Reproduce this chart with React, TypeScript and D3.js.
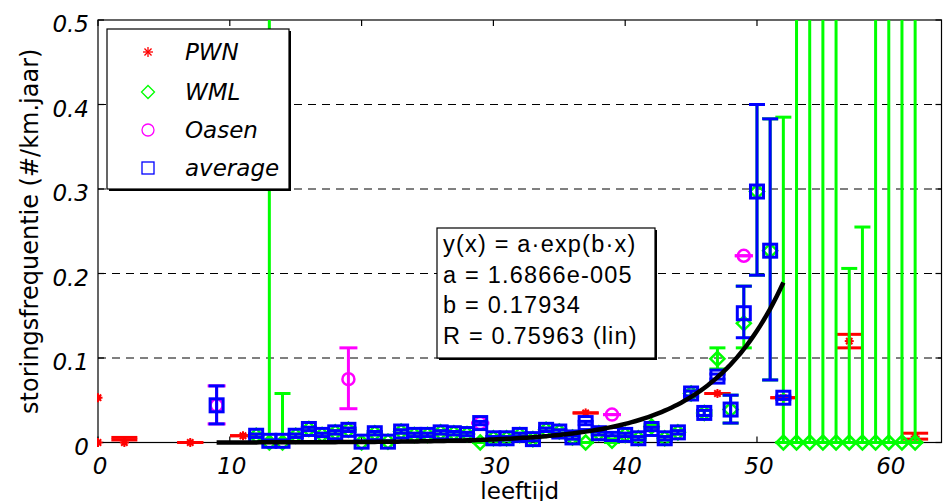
import React from "react";
import * as d3 from "d3";

// ---------- data ----------
const avgAges = [9, 12, 13, 14, 15, 16, 17, 18, 19, 20, 21, 22, 23, 24, 25, 26, 27, 28, 29, 30, 31, 32, 33, 34, 35, 36, 37, 38, 39, 40, 41, 42, 43, 44, 45, 46, 47, 48, 49, 50, 51, 52];
const avgVals = [0.044, 0.008, 0.002, 0.002, 0.008, 0.016, 0.009, 0.012, 0.015, 0.001, 0.011, 0.001, 0.013, 0.009, 0.009, 0.012, 0.011, 0.010, 0.023, 0.005, 0.005, 0.009, 0.004, 0.015, 0.013, 0.006, 0.023, 0.011, 0.010, 0.009, 0.005, 0.016, 0.005, 0.012, 0.058, 0.035, 0.078, 0.039, 0.153, 0.297, 0.227, 0.053];
const avgLo = [0.022, 0.006, 0.001, 0.001, 0.006, 0.014, 0.007, 0.010, 0.013, 0.0, 0.009, 0.0, 0.011, 0.007, 0.007, 0.010, 0.009, 0.008, 0.021, 0.003, 0.003, 0.007, 0.002, 0.013, 0.011, 0.004, 0.021, 0.009, 0.008, 0.007, 0.003, 0.014, 0.003, 0.010, 0.055, 0.032, 0.075, 0.023, 0.124, 0.198, 0.074, 0.051];
const avgHi = [0.067, 0.010, 0.003, 0.003, 0.010, 0.018, 0.011, 0.014, 0.017, 0.002, 0.013, 0.002, 0.015, 0.011, 0.011, 0.014, 0.013, 0.012, 0.025, 0.007, 0.007, 0.011, 0.006, 0.017, 0.015, 0.008, 0.025, 0.013, 0.012, 0.011, 0.007, 0.018, 0.007, 0.014, 0.061, 0.038, 0.081, 0.056, 0.185, 0.400, 0.383, 0.055];

const wmlAges = [12, 13, 14, 15, 16, 17, 18, 19, 20, 21, 22, 23, 24, 25, 26, 27, 28, 29, 30, 31, 32, 33, 34, 35, 36, 37, 38, 39, 40, 41, 42, 43, 44, 45, 46, 47, 48, 49, 50, 51, 52, 53, 54, 55, 56, 57, 58, 59, 60, 61, 62];
const wmlVals = [0.008, 0, 0, 0.008, 0.016, 0.009, 0.012, 0.015, 0, 0.011, 0.001, 0.013, 0.009, 0.009, 0.012, 0.011, 0.010, 0, 0.005, 0.005, 0.009, 0.004, 0.015, 0.013, 0.006, 0, 0.011, 0.002, 0.009, 0.005, 0.019, 0.005, 0.012, 0.058, 0.035, 0.099, 0.039, 0.141, 0.297, 0.227, 0, 0, 0, 0, 0, 0, 0, 0, 0, 0, 0];
const wmlLo = [0.006, 0, 0, 0.006, 0.014, 0.007, 0.010, 0.013, 0, 0.009, 0.0, 0.011, 0.007, 0.007, 0.010, 0.009, 0.008, 0, 0.003, 0.003, 0.007, 0.002, 0.013, 0.011, 0.004, 0, 0.009, 0.0, 0.007, 0.003, 0.017, 0.003, 0.010, 0.055, 0.032, 0.087, 0.023, 0.112, 0.198, 0.074, 0, 0, 0, 0, 0, 0, 0, 0, 0, 0, 0];
const wmlHi = [0.010, 0.9, 0.058, 0.010, 0.018, 0.011, 0.014, 0.017, 0.0, 0.013, 0.002, 0.015, 0.011, 0.011, 0.014, 0.013, 0.012, 0.0, 0.007, 0.007, 0.011, 0.006, 0.017, 0.015, 0.008, 0.0, 0.013, 0.004, 0.011, 0.007, 0.021, 0.007, 0.014, 0.061, 0.038, 0.112, 0.056, 0.185, 0.400, 0.383, 0.385, 0.9, 0.9, 0.9, 0.9, 0.206, 0.255, 0.9, 0.9, 0.9, 0.9];

// NaN = no error bar drawn
const pwnAges = [0, 0, 2, 7, 11, 37, 47, 52, 57, 62];
const pwnVals = [0.053, 0, 0.0, 0, 0.008, 0.035, 0.058, 0.053, 0.120, 0.007];
const pwnLo = [NaN, NaN, 0.003, 0, 0.008, 0.035, 0.058, 0.053, 0.112, 0.004];
const pwnHi = [NaN, NaN, 0.006, 0, 0.008, 0.035, 0.058, 0.053, 0.128, 0.011];

const oasenAges = [9, 19, 29, 39, 49];
const oasenVals = [0.044, 0.075, 0.023, 0.033, 0.221];
const oasenLo = [0.022, 0.040, 0.023, 0.033, 0.221];
const oasenHi = [0.067, 0.112, 0.023, 0.033, 0.221];

const fitA = 1.6866e-5;
const fitB = 0.17934;
const fitRange = [9, 52];

const xTicks = [0, 10, 20, 30, 40, 50, 60];
const yTicks = [0, 0.1, 0.2, 0.3, 0.4, 0.5];
const gridTicks = [0.1, 0.2, 0.3, 0.4];

const legendLabels = ["PWN", "WML", "Oasen", "average"];
const fitLines = ["y(x) = a·exp(b·x)", "a = 1.6866e-005", "b = 0.17934", "R = 0.75963 (lin)"];
const xLabel = "leeftijd";
const yLabel = "storingsfrequentie (#/km.jaar)";

// ---------- layout ----------
const W = 943;
const H = 501;
const X0 = 98, X1 = 941.5, Y0 = 442.5, Y1 = 20;
const x = d3.scaleLinear().domain([0, 64]).range([X0, X1]);
const y = d3.scaleLinear().domain([0, 0.5]).range([Y0, Y1]);

const RED = "#ff0000";
const GREEN = "#00ff00";
const MAG = "#ff00ff";
const BLUE = "#0000ff";
const TICKFONT = "'DejaVu Sans', sans-serif";

function ErrBars({ ages, lo, hi, color, cap, sw }: any) {
  return (
    <g stroke={color} strokeWidth={sw} fill="none" clipPath="url(#plotclip)">
      {ages.map((a: number, i: number) => {
        if (isNaN(lo[i]) || isNaN(hi[i])) return null;
        const cx = x(a);
        const yl = y(lo[i]);
        const yh = y(hi[i]);
        return (
          <g key={i}>
            {Math.abs(yl - yh) > 0.5 && <line x1={cx} x2={cx} y1={yl} y2={yh} />}
            <line x1={cx - cap / 2} x2={cx + cap / 2} y1={yl} y2={yl} />
            <line x1={cx - cap / 2} x2={cx + cap / 2} y1={yh} y2={yh} />
          </g>
        );
      })}
    </g>
  );
}

function Star({ cx, cy, r, color, sw }: any) {
  const d = r * 0.7071;
  return (
    <g stroke={color} strokeWidth={sw}>
      <line x1={cx - r} x2={cx + r} y1={cy} y2={cy} />
      <line x1={cx} x2={cx} y1={cy - r} y2={cy + r} />
      <line x1={cx - d} x2={cx + d} y1={cy - d} y2={cy + d} />
      <line x1={cx - d} x2={cx + d} y1={cy + d} y2={cy - d} />
    </g>
  );
}

function Diamond({ cx, cy, r, color, sw }: any) {
  return (
    <path d={`M${cx},${cy - r}L${cx + r},${cy}L${cx},${cy + r}L${cx - r},${cy}Z`} fill="none" stroke={color} strokeWidth={sw} />
  );
}

export default function App() {
  const fitAges = d3.range(fitRange[0], fitRange[1] + 0.001, 0.25);
  const fitPath = d3
    .line<number>()
    .x((a) => x(a))
    .y((a) => y(fitA * Math.exp(fitB * a)))(fitAges);

  const legendRows = [52, 92, 130, 168];

  return (
    <div style={{ position: "absolute", left: 0, top: 0, width: W, height: H }}>
      <svg width={W} height={H} viewBox={`0 0 ${W} ${H}`} style={{ display: "block" }}>
        <defs>
          <clipPath id="plotclip">
            <rect x={0} y={Y1} width={W} height={H - Y1} />
          </clipPath>
          <clipPath id="leftclip">
            <rect x={X0 - 1} y={0} width={W} height={H} />
          </clipPath>
        </defs>
        <rect x={0} y={0} width={W} height={H} fill="#fff" />

        {/* grid */}
        <g stroke="#000" strokeWidth={1} strokeDasharray="8,6">
          {gridTicks.map((t) => (
            <line key={t} x1={X0} x2={X1} y1={y(t)} y2={y(t)} />
          ))}
        </g>

        {/* axes box */}
        <g stroke="#000" strokeWidth={1.2} fill="none">
          <rect x={X0} y={Y1} width={X1 - X0} height={Y0 - Y1} />
          {xTicks.map((t) => (
            <g key={t}>
              <line x1={x(t)} x2={x(t)} y1={Y0} y2={Y0 - 6} />
              <line x1={x(t)} x2={x(t)} y1={Y1} y2={Y1 + 6} />
            </g>
          ))}
          {yTicks.map((t) => (
            <g key={t}>
              <line x1={X0} x2={X0 + 6} y1={y(t)} y2={y(t)} />
              <line x1={X1} x2={X1 - 6} y1={y(t)} y2={y(t)} />
            </g>
          ))}
        </g>

        {/* PWN */}
        <ErrBars ages={pwnAges} lo={pwnLo} hi={pwnHi} color={RED} cap={26} sw={3} />
        <g clipPath="url(#leftclip)">
          {pwnAges.map((a, i) => (
            <g key={i}>
              <circle cx={x(a)} cy={y(pwnVals[i])} r={3} fill={RED} />
              <Star cx={x(a)} cy={y(pwnVals[i])} r={4.5} color={RED} sw={2} />
            </g>
          ))}
        </g>

        {/* WML */}
        <ErrBars ages={wmlAges} lo={wmlLo} hi={wmlHi} color={GREEN} cap={16} sw={3} />
        {wmlAges.map((a, i) => (
          <Diamond key={i} cx={x(a)} cy={y(wmlVals[i])} r={7} color={GREEN} sw={2.5} />
        ))}

        {/* Oasen */}
        <ErrBars ages={oasenAges} lo={oasenLo} hi={oasenHi} color={MAG} cap={18} sw={3} />
        {oasenAges.map((a, i) => (
          <circle key={i} cx={x(a)} cy={y(oasenVals[i])} r={6} fill="none" stroke={MAG} strokeWidth={2.5} />
        ))}

        {/* average */}
        <ErrBars ages={avgAges} lo={avgLo} hi={avgHi} color={BLUE} cap={16} sw={3} />
        {avgAges.map((a, i) => (
          <rect key={i} x={x(a) - 6.5} y={y(avgVals[i]) - 6.5} width={13} height={13} fill="none" stroke={BLUE} strokeWidth={3} />
        ))}

        {/* fit */}
        <path d={fitPath || ""} fill="none" stroke="#000" strokeWidth={4.5} />

        {/* legend */}
        <rect x={109} y={31} width={182} height={160} fill="#000" />
        <rect x={107} y={29} width={182} height={160} fill="#fff" stroke="#000" strokeWidth={1.2} />
        <Star cx={148} cy={legendRows[0]} r={5} color={RED} sw={1.3} />
        <Diamond cx={148} cy={legendRows[1]} r={6.5} color={GREEN} sw={1.3} />
        <circle cx={148} cy={legendRows[2]} r={6} fill="none" stroke={MAG} strokeWidth={1.3} />
        <rect x={142} y={legendRows[3] - 6} width={12} height={12} fill="none" stroke={BLUE} strokeWidth={1.3} />
        {legendLabels.map((l, i) => (
          <text key={l} x={185} y={legendRows[i]} dy="0.36em" fontFamily={TICKFONT} fontStyle="italic" fontSize={23} fill="#000">
            {l}
          </text>
        ))}

        {/* fit text box */}
        <rect x={439} y={230} width={218} height={130} fill="#000" />
        <rect x={437} y={228} width={218} height={130} fill="#fff" stroke="#000" strokeWidth={1.2} />
        {fitLines.map((l, i) => (
          <text key={i} x={443} y={252 + i * 30.7} fontFamily="'Liberation Sans', Arial, sans-serif" fontSize={23.5} letterSpacing={1.2} fill="#000">
            {l}
          </text>
        ))}

        {/* tick labels */}
        {xTicks.map((t) => (
          <text key={t} x={x(t) + 2} y={474} textAnchor="middle" fontFamily={TICKFONT} fontStyle="italic" fontSize={23} fill="#000">
            {String(t)}
          </text>
        ))}
        {yTicks.map((t) => (
          <text key={t} x={89} y={y(t) + 4} dy="0.36em" textAnchor="end" fontFamily={TICKFONT} fontStyle="italic" fontSize={23} fill="#000">
            {t === 0 ? "0" : String(t)}
          </text>
        ))}

        <text x={(X0 + X1) / 2} y={499} textAnchor="middle" fontFamily={TICKFONT} fontSize={23} fill="#000">
          {xLabel}
        </text>
        <text transform={`translate(38, ${(Y0 + Y1) / 2}) rotate(-90)`} textAnchor="middle" fontFamily={TICKFONT} fontSize={24} fill="#000">
          {yLabel}
        </text>
      </svg>
    </div>
  );
}
